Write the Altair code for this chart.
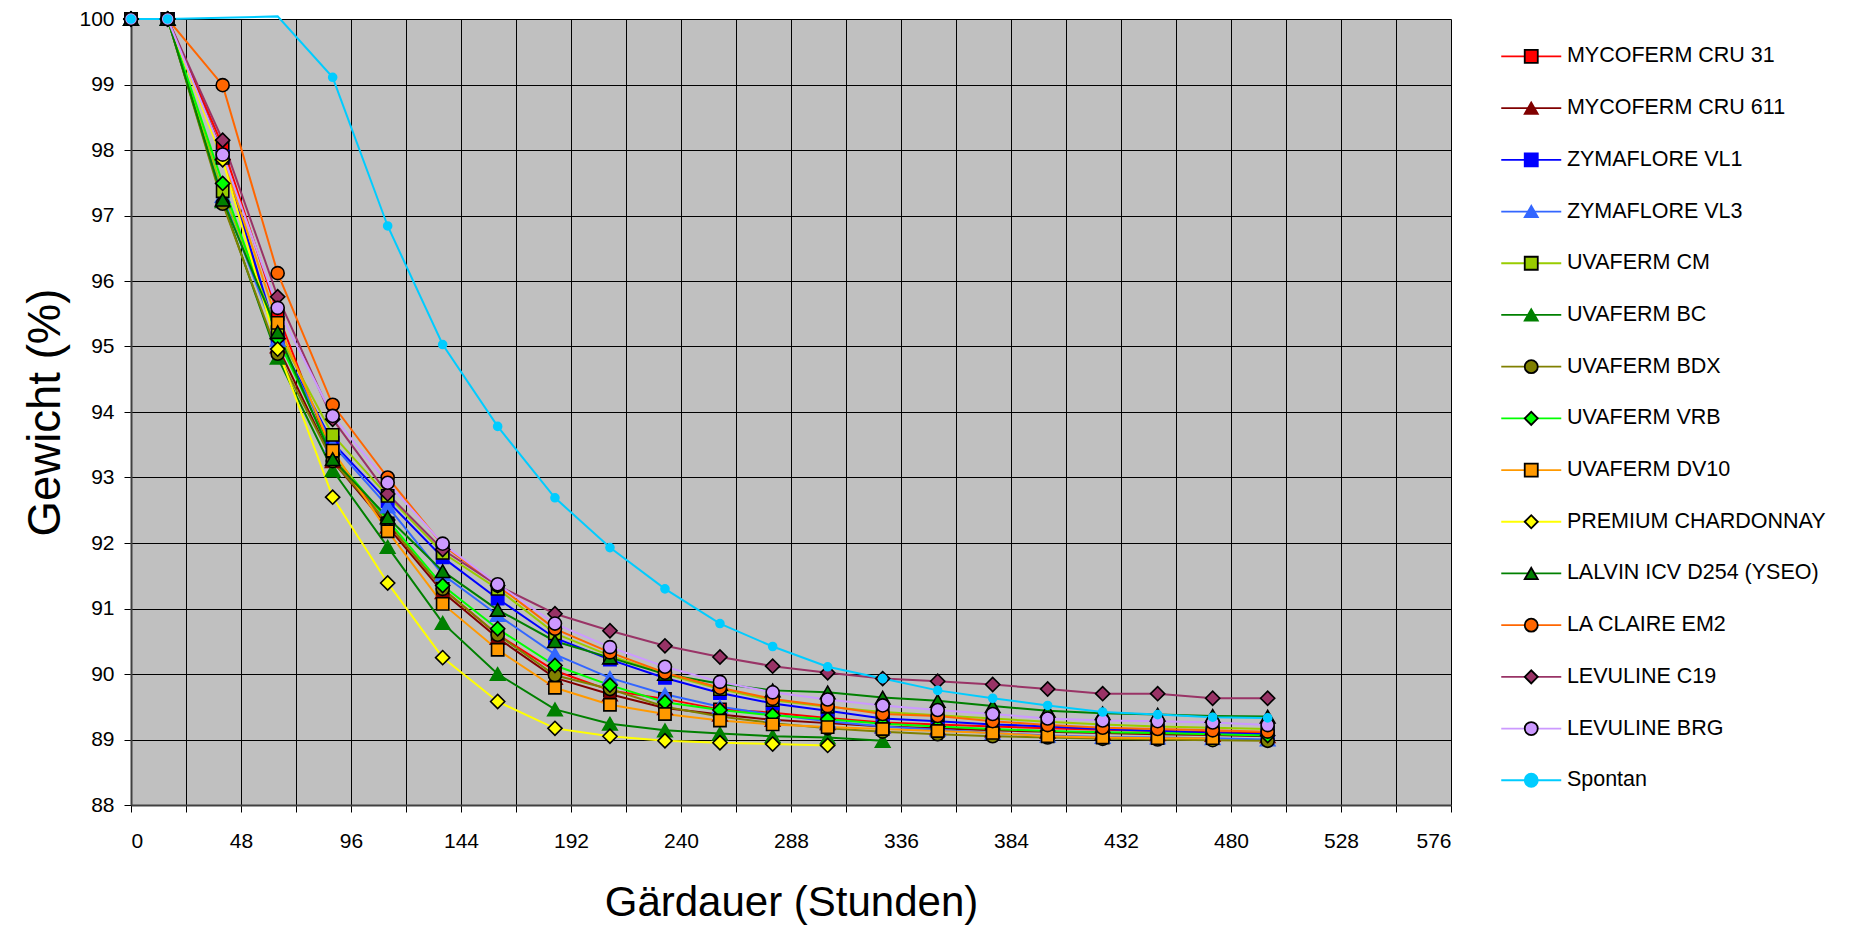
import altair as alt
import pandas as pd

hours = [0, 16, 40, 64, 88, 112, 136, 160, 185, 209, 233, 257, 280, 304, 328,
         352, 376, 400, 424, 448, 472, 496]

series_names = ["MYCOFERM CRU 31", "MYCOFERM CRU 611", "ZYMAFLORE VL1", "ZYMAFLORE VL3",
                "UVAFERM CM", "UVAFERM BC", "UVAFERM BDX", "UVAFERM VRB", "UVAFERM DV10",
                "PREMIUM CHARDONNAY", "LALVIN ICV D254 (YSEO)", "LA CLAIRE EM2",
                "LEVULINE C19", "LEVULINE BRG", "Spontan"]

cru31 = [100, 100, 98.06, 95.50, 93.30, 92.30, 91.30, 90.60, 90.05, 89.75, 89.62, 89.46, 89.41,
         89.33, 89.26, 89.23, 89.20, 89.17, 89.15, 89.13, 89.11, 89.10]
cru611 = [100, 100, 97.95, 95.00, 93.25, 92.25, 91.25, 90.55, 89.94, 89.69, 89.48, 89.38, 89.30,
          89.25, 89.20, 89.17, 89.14, 89.12, 89.10, 89.08, 89.07, 89.05]
vl1 = [100, 100, 97.90, 95.13, 93.53, 92.64, 91.78, 91.15, 90.55, 90.22, 89.94, 89.71, 89.55,
       89.44, 89.32, 89.28, 89.23, 89.20, 89.16, 89.13, 89.10, 89.08]
vl3 = [100, 100, 97.30, 95.10, 93.50, 92.56, 91.52, 90.90, 90.30, 89.94, 89.69, 89.50, 89.38,
       89.28, 89.20, 89.15, 89.10, 89.06, 89.04, 89.03, 89.02, 89.00]
cm = [100, 100, 97.37, 95.22, 93.65, 92.72, 91.85, 91.30, 90.62, 90.28, 90.00, 89.77, 89.60,
      89.50, 89.42, 89.37, 89.32, 89.27, 89.23, 89.20, 89.18, 89.16]
bc = [100, 100, 97.22, 94.83, 93.11, 91.94, 90.78, 90.00, 89.46, 89.24, 89.14, 89.09, 89.05,
      89.03, 88.98]
bdx = [100, 100, 97.18, 94.89, 93.25, 92.30, 91.30, 90.60, 89.98, 89.77, 89.50, 89.35, 89.25,
       89.17, 89.12, 89.08, 89.05, 89.03, 89.01, 89.00, 88.99, 88.98]
vrb = [100, 100, 97.49, 95.12, 93.35, 92.35, 91.35, 90.69, 90.13, 89.83, 89.57, 89.45, 89.37,
       89.31, 89.24, 89.20, 89.16, 89.13, 89.11, 89.10, 89.08, 89.06]
dv10 = [100, 100, 97.88, 95.36, 93.41, 92.18, 91.07, 90.37, 89.79, 89.53, 89.39, 89.29, 89.23,
        89.19, 89.16, 89.13, 89.10, 89.05, 89.03, 89.02, 89.02]
premium = [100, 100, 97.85, 94.96, 92.70, 91.39, 90.25, 89.58, 89.17, 89.05, 88.98, 88.95, 88.93,
           88.91]
lalvin = [100, 100, 97.24, 95.22, 93.28, 92.39, 91.57, 90.98, 90.50, 90.25, 90.00, 89.85, 89.75,
          89.72, 89.64, 89.59, 89.51, 89.44, 89.40, 89.38, 89.36, 89.35]
laclaire = [100, 100, 98.99, 96.12, 94.11, 93.00, 91.97, 91.35, 90.69, 90.33, 90.02, 89.79, 89.62,
            89.51, 89.39, 89.36, 89.28, 89.22, 89.18, 89.16, 89.14, 89.12]
c19 = [100, 100, 98.15, 95.76, 93.89, 92.75, 91.90, 91.35, 90.92, 90.66, 90.43, 90.26, 90.12,
       90.02, 89.93, 89.89, 89.84, 89.77, 89.70, 89.70, 89.63, 89.63]
brg = [100, 100, 97.93, 95.59, 93.94, 92.92, 91.99, 91.37, 90.77, 90.41, 90.11, 89.88, 89.72,
       89.61, 89.52, 89.45, 89.39, 89.32, 89.29, 89.28, 89.26, 89.22]
spontan = [100, 100, None, 100.04, 99.11, 96.84, 95.03, 93.78, 92.69, 91.93, 91.30, 90.77,
           90.42, 90.11, 89.93, 89.75, 89.63, 89.52, 89.42, 89.38, 89.34, 89.33]

series_values = [cru31, cru611, vl1, vl3, cm, bc, bdx, vrb, dv10, premium, lalvin, laclaire,
                 c19, brg, spontan]

colors = ["#FF0000", "#800000", "#0000FF", "#3366FF", "#99CC00", "#008000", "#808000",
          "#00FF00", "#FF9900", "#FFFF00", "#008000", "#FF6600", "#993366", "#CC99FF", "#00CCFF"]
shapes = ["square", "triangle-up", "square", "triangle-up", "square", "triangle-up", "circle",
          "diamond", "square", "diamond", "triangle-up", "circle", "diamond", "circle", "circle"]
bordered = [True, False, False, False, True, False, True, True, True, True, True, True, True,
            True, False]
marker_sizes = [150, 210, 150, 210, 150, 210, 170, 200, 150, 200, 210, 170, 200, 170, 64]

rows = []
for i, (name, vals) in enumerate(zip(series_names, series_values)):
    for h, v in zip(hours, vals):
        if v is None:
            continue
        rows.append({"series": name, "marker": name, "hours": h, "weight": v, "idx": i,
                     "msize": marker_sizes[i]})
df = pd.DataFrame(rows)

marker_strokes = ["black" if b else c for b, c in zip(bordered, colors)]

FONT = "Liberation Sans"
SYM = 170
SW = 1.8
half = 30 / (SYM ** 0.5 / 2)
common_leg = dict(title=None, orient="none", legendX=1389.5, legendY=26.7, symbolSize=SYM,
                  symbolStrokeWidth=SW,
                  labelFontSize=21.5, labelFont=FONT, labelOffset=24.9, rowPadding=28.7,
                  padding=0, labelLimit=500, labelColor="black")

x_enc = alt.X("hours:Q",
              scale=alt.Scale(domain=[0, 576], nice=False, zero=False),
              axis=alt.Axis(values=list(range(0, 577, 24)),
                            labelExpr="datum.value % 48 == 0 ? datum.label : ''",
                            title="Gärdauer (Stunden)", titleFontSize=42,
                            titleFontWeight="normal", titleFont=FONT, titlePadding=31,
                            labelFont=FONT, labelFontSize=21, labelColor="black",
                            labelPadding=18, tickSize=7, tickColor="black",
                            domainColor="#404040", domainWidth=2,
                            grid=True, gridColor="black", gridWidth=1))
y_enc = alt.Y("weight:Q",
              scale=alt.Scale(domain=[88, 100], nice=False, zero=False),
              axis=alt.Axis(values=list(range(88, 101)), format="d",
                            title="Gewicht (%)", titleFontSize=45.5,
                            titleFontWeight="normal", titleFont=FONT, titlePadding=9,
                            labelFont=FONT, labelFontSize=21, labelColor="black",
                            labelPadding=10, tickSize=7, tickColor="black",
                            domainColor="#404040", domainWidth=2,
                            grid=True, gridColor="black", gridWidth=1))

lines = alt.Chart(df).mark_line(strokeWidth=2).encode(
    x=x_enc,
    y=y_enc,
    stroke=alt.Stroke("series:N", sort=series_names,
                      scale=alt.Scale(range=colors),
                      legend=alt.Legend(symbolType=f"M-{half:.4f},0H{half:.4f}",
                                        **common_leg)),
    order=alt.Order("hours:Q"),
)

marker_leg = alt.Legend(symbolOpacity=1, labelOpacity=0, **common_leg)

points = alt.Chart(df).transform_filter("datum.weight <= 100").mark_point(
    filled=True, opacity=1, strokeWidth=1.6).encode(
    x="hours:Q",
    y="weight:Q",
    fill=alt.Fill("marker:N",
                  scale=alt.Scale(domain=series_names, range=colors),
                  legend=marker_leg),
    shape=alt.Shape("marker:N", scale=alt.Scale(domain=series_names, range=shapes),
                    legend=marker_leg),
    stroke=alt.Stroke("marker:N", scale=alt.Scale(domain=series_names, range=marker_strokes),
                      legend=marker_leg),
    size=alt.Size("msize:Q", scale=None),
)

chart = alt.layer(lines, points).resolve_scale(
    stroke="independent", fill="independent", shape="independent").properties(
    width=1320, height=786,
    autosize=alt.AutoSizeParams(type="none"),
    padding={"left": 123, "top": 11, "right": 395, "bottom": 124},
    background="white",
).configure_view(fill="#C0C0C0", stroke=None)

chart.save("out.html", embed_options={"renderer": "svg", "actions": False})
